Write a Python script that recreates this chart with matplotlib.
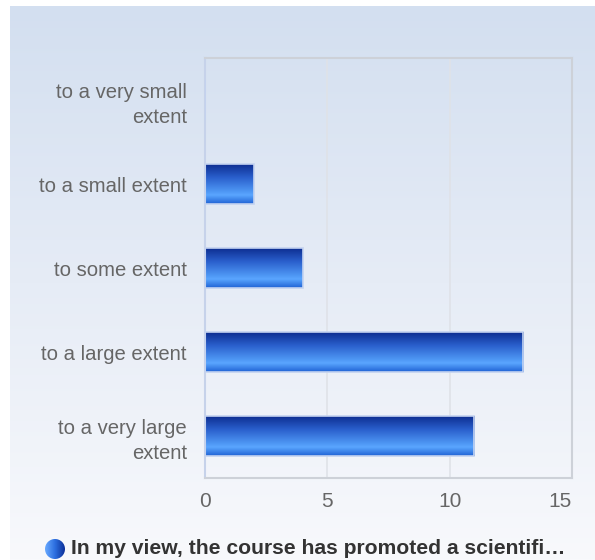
import numpy as np
import matplotlib
matplotlib.use("Agg")
import matplotlib.pyplot as plt
from matplotlib.colors import LinearSegmentedColormap
from matplotlib.patches import Circle

categories = ["to a very small\nextent", "to a small extent", "to some extent",
              "to a large extent", "to a very large\nextent"]
values = [0, 2, 4, 13, 11]
xticks = [0, 5, 10, 15]
legend_label = "In my view, the course has promoted a scientifi\u2026"

plt.rcParams['font.family'] = ['Liberation Sans', 'DejaVu Sans']

W, H = 595, 560
fig = plt.figure(figsize=(W / 100, H / 100), dpi=100)
fig.patch.set_facecolor("white")

# background gradient panel
bg = fig.add_axes([10 / W, 0, (W - 10) / W, (H - 6) / H], zorder=0)
bgcmap = LinearSegmentedColormap.from_list("bg", ["#d3dff0", "#e6ecf6", "#f8f9fc"])
grad = np.linspace(0, 1, 256).reshape(-1, 1)
bg.imshow(grad, aspect="auto", cmap=bgcmap, extent=[0, 1, 0, 1], origin="upper")
bg.set_axis_off()

ax = fig.add_axes([205 / W, (H - 478) / H, (572 - 205) / W, (478 - 58) / H], zorder=1)
ax.patch.set_alpha(0)

n = len(categories)
ypos = np.arange(n)[::-1]
bars = ax.barh(ypos, values, height=0.48, color="none", edgecolor="#c4d3f0",
               linewidth=1.2, zorder=3)

barcmap = LinearSegmentedColormap.from_list(
    "bar", [(0.0, "#0b2a8c"), (0.35, "#2a5fcc"), (0.7, "#4f98f5"),
            (0.78, "#5aa6ff"), (1.0, "#1f62d4")])
for b in bars:
    w = b.get_width()
    if w <= 0:
        continue
    x0, y0 = b.get_x(), b.get_y()
    h = b.get_height()
    im = ax.imshow(grad, aspect="auto", cmap=barcmap,
                   extent=[x0, x0 + w, y0, y0 + h], origin="upper", zorder=2)
    im.set_clip_path(b)

ax.set_xlim(0, 15)
ax.set_ylim(-0.5, n - 0.5)
ax.set_xticks(xticks)
ax.set_xticklabels([str(t) for t in xticks])
ax.set_yticks(ypos)
ax.set_yticklabels(categories, linespacing=1.4)
ax.tick_params(axis="y", length=0, pad=13, labelsize=14.6, labelcolor="#666666")
ax.tick_params(axis="x", length=0, pad=10, labelsize=15, labelcolor="#666666")
for lbl in ax.get_yticklabels():
    lbl.set_horizontalalignment("right")
    lbl.set_multialignment("right")
ax.get_xticklabels()[-1].set_horizontalalignment("right")

ax.grid(axis="x", color="#dfe2e8", linewidth=1.2, zorder=1)
ax.set_axisbelow(True)
for s in ["top", "right", "bottom"]:
    ax.spines[s].set_color("#cdd1d8")
    ax.spines[s].set_linewidth(1.5)
ax.spines["left"].set_color("#c6d2ea")
ax.spines["left"].set_linewidth(1.5)

# legend
lax = fig.add_axes([0, 0, 1, 1], zorder=2)
lax.set_xlim(0, W)
lax.set_ylim(H, 0)
lax.set_axis_off()
circ = Circle((55, 549), 10, facecolor="none", edgecolor="none")
lax.add_patch(circ)
lcmap = LinearSegmentedColormap.from_list("leg", ["#6aaaff", "#2c6fe0", "#0c2f98"])
hgrad = np.linspace(0, 1, 256).reshape(1, -1)
li = lax.imshow(hgrad, aspect="auto", cmap=lcmap, extent=[45, 65, 559, 539])
li.set_clip_path(circ)
lax.text(71, 549, legend_label, fontsize=15.2, fontweight="bold", color="#333333",
         va="center", ha="left")
lax.set_xlim(0, W)
lax.set_ylim(H, 0)

fig.savefig("out.png", dpi=100)
